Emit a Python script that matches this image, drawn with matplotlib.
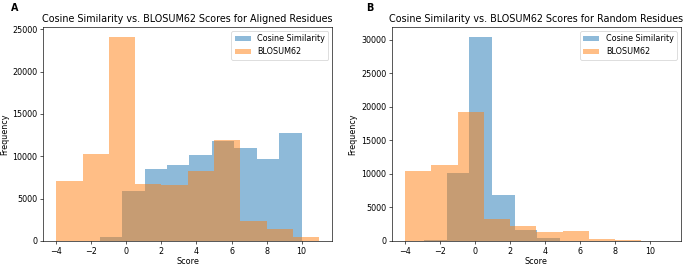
import numpy as np
import matplotlib
matplotlib.use("Agg")
import matplotlib.pyplot as plt

# Histogram counts (10 bins each)
# Panel A: aligned residues
cos_range_a = (-2.8, 10.0)
cos_counts_a = [20, 470, 5900, 8450, 9000, 10200, 11800, 11000, 9670, 12700]
blosum_range_a = (-4.0, 11.0)
blosum_counts_a = [7080, 10300, 24050, 6680, 6600, 8250, 11900, 2360, 1420, 470]

# Panel B: random residues
cos_range_b = (-2.9, 10.0)
cos_counts_b = [100, 10200, 30400, 6850, 1650, 430, 60, 20, 10, 5]
blosum_range_b = (-4.0, 11.0)
blosum_counts_b = [10480, 11350, 19300, 3260, 2280, 1380, 1480, 330, 120, 10]

titles = ["Cosine Similarity vs. BLOSUM62 Scores for Aligned Residues",
          "Cosine Similarity vs. BLOSUM62 Scores for Random Residues"]
panel_labels = ["A", "B"]

DPI = 58
fig, axes = plt.subplots(1, 2, figsize=(685 / DPI, 266 / DPI), dpi=DPI)
plt.subplots_adjust(left=0.063, right=0.994, bottom=0.094, top=0.898, wspace=0.206)

panels = [
    (cos_range_a, cos_counts_a, blosum_range_a, blosum_counts_a),
    (cos_range_b, cos_counts_b, blosum_range_b, blosum_counts_b),
]

for ax, (cr, cc, br, bc), title in zip(axes, panels, titles):
    cos_edges = np.linspace(cr[0], cr[1], len(cc) + 1)
    bl_edges = np.linspace(br[0], br[1], len(bc) + 1)
    ax.hist((cos_edges[:-1] + cos_edges[1:]) / 2, bins=cos_edges, weights=cc,
            alpha=0.5, label="Cosine Similarity")
    ax.hist((bl_edges[:-1] + bl_edges[1:]) / 2, bins=bl_edges, weights=bc,
            alpha=0.5, label="BLOSUM62")
    ax.set_title(title, fontsize=12)
    ax.set_xlabel("Score", labelpad=2)
    ax.set_ylabel("Frequency")
    ax.tick_params(labelsize=10)
    ax.legend(loc="upper right")

fig.text(0.016, 0.99, panel_labels[0], fontsize=12, fontweight="bold", va="top")
fig.text(0.535, 0.99, panel_labels[1], fontsize=12, fontweight="bold", va="top")

plt.savefig("out.png", dpi=DPI)
